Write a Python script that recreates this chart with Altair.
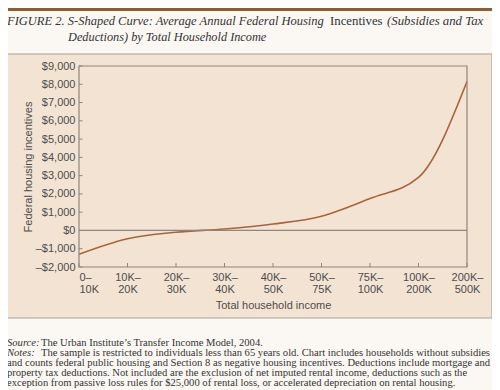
import altair as alt
import pandas as pd

# ---- data ----
income_groups = ["0–10K", "10K–20K", "20K–30K", "30K–40K", "40K–50K",
                 "50K–75K", "75K–100K", "100K–200K", "200K–500K"]
incentives = [-1300, -450, -100, 80, 350, 780, 1750, 2900, 8150]
y_ticks = [-2000, -1000, 0, 1000, 2000, 3000, 4000, 5000, 6000, 7000, 8000, 9000]

title_parts = [
    "FIGURE 2.  S-Shaped Curve: Average Annual Federal Housing",
    "Incentives",
    "(Subsidies and Tax",
    "Deductions) by Total Household Income",
]
note_lines = [
    ("Source:", "The Urban Institute’s Transfer Income Model, 2004."),
    ("Notes:", "The sample is restricted to individuals less than 65 years old. Chart includes households without subsidies"),
    ("", "and counts federal public housing and Section 8 as negative housing incentives. Deductions include mortgage and"),
    ("", "property tax deductions. Not included are the exclusion of net imputed rental income, deductions such as the"),
    ("", "exception from passive loss rules for $25,000 of rental loss, or accelerated depreciation on rental housing."),
]

df = pd.DataFrame({"group": income_groups, "value": incentives})
ticks_df = pd.DataFrame({"value": y_ticks})
one = alt.Data(values=[{"a": 1}])

W, H = 388, 201
SERIF = "Liberation Serif"
SANS = "Liberation Sans"
GRAY = "#8f867d"
TXT = "#333333"
AX = "#4d4d4d"

xaxis = alt.Axis(
    title="Total household income", titleFont=SANS, titleFontSize=11,
    titleFontWeight="normal", titleColor=AX, titleX=W / 2, titleY=38,
    titleBaseline="middle", titleAlign="center",
    labelFont=SANS, labelFontSize=11, labelColor=AX,
    labelExpr="[slice(datum.value, 0, indexof(datum.value, '–') + 1), slice(datum.value, indexof(datum.value, '–') + 1)]",
    labelAlign={"condition": {"test": "datum.index == 0", "value": "left"}, "value": "center"},
    labelBaseline="top", labelPadding=4, labelLineHeight=12,
    labelOverlap=False,
    ticks=False, domain=False, grid=False, zindex=2, labelAngle=0)
yaxis = alt.Axis(
    title="Federal housing incentives", titleFont=SANS, titleFontSize=11,
    titleFontWeight="normal", titleColor=AX, titleX=-51, titleY=H / 2,
    titleAngle=270, titleAlign="center", titleBaseline="middle",
    values=y_ticks, tickCount=12, labelFont=SANS, labelFontSize=11, labelColor=AX,
    labelExpr="(datum.value < 0 ? '–' : '') + '$' + format(abs(datum.value), ',')",
    labelOverlap=False, labelPadding=4, ticks=False, domain=False,
    grid=False, zindex=2)

xscale = alt.Scale(type="point", padding=0)
yscale = alt.Scale(domain=[-2000, 9000], nice=False, zero=False)
xenc = alt.X("group:N", sort=income_groups, scale=xscale, axis=xaxis)
yenc = alt.Y("value:Q", scale=yscale, axis=yaxis)

panel = alt.Chart(one).mark_rect(fill="#f3e3d3", stroke="#a9a198", strokeWidth=1).encode(
    x=alt.value(-72), x2=alt.value(413), y=alt.value(-12), y2=alt.value(252))
top_rule = alt.Chart(one).mark_rule(color="#8e5f2e", strokeWidth=3).encode(
    x=alt.value(-80), x2=alt.value(420), y=alt.value(-56.5))
box = alt.Chart(one).mark_rect(fill="transparent", stroke=GRAY, strokeWidth=1.2).encode(
    x=alt.value(0), x2=alt.value(W), y=alt.value(0), y2=alt.value(H))
zero = alt.Chart(one).mark_rule(color=GRAY, strokeWidth=1.2).encode(
    y=alt.datum(0), x=alt.value(0), x2=alt.value(W))
yticks = alt.Chart(ticks_df).mark_rule(color=GRAY, strokeWidth=1).encode(
    y=yenc, x=alt.value(0), x2=alt.value(3.5))
xticks = alt.Chart(df).mark_rule(color=GRAY, strokeWidth=1).encode(
    x=xenc, y=alt.value(H - 4), y2=alt.value(H))
line = alt.Chart(df).mark_line(color="#a8643a", strokeWidth=1.6, interpolate="monotone").encode(
    x=xenc, y=yenc)


def txt(s, x, y, italic=False, size=10.6, font=SERIF, color=TXT):
    return alt.Chart(one).mark_text(align="left", baseline="middle", font=font, fontSize=size,
                                    fontStyle="italic" if italic else "normal",
                                    color=color).encode(
        text=alt.value(s), x=alt.value(x), y=alt.value(y))


texts = [
    txt(title_parts[0], -72, -45, italic=True, size=12.5),
    txt(title_parts[1], 251, -45, italic=False, size=12.8),
    txt(title_parts[2], 308, -45, italic=True, size=12.8),
    txt(title_parts[3], -11, -29.5, italic=True, size=12.3),
]
note_y = [276.7, 286.7, 297.3, 307.3, 317.3]
for (lab, rest), yy in zip(note_lines, note_y):
    if lab:
        texts.append(txt(lab, -72, yy, italic=True))
        texts.append(txt(rest, -38, yy))
    else:
        texts.append(txt(rest, -72, yy))

chart = alt.layer(panel, top_rule, line, zero, yticks, xticks, box, *texts).properties(
    width=W, height=H,
    autosize=alt.AutoSizeParams(type="none"),
    padding={"left": 71, "top": 58, "right": 25, "bottom": 123},
    background="#fbf8f3",
).configure_view(stroke=None)

chart.save("out.html", embed_options={"renderer": "svg", "actions": False})
